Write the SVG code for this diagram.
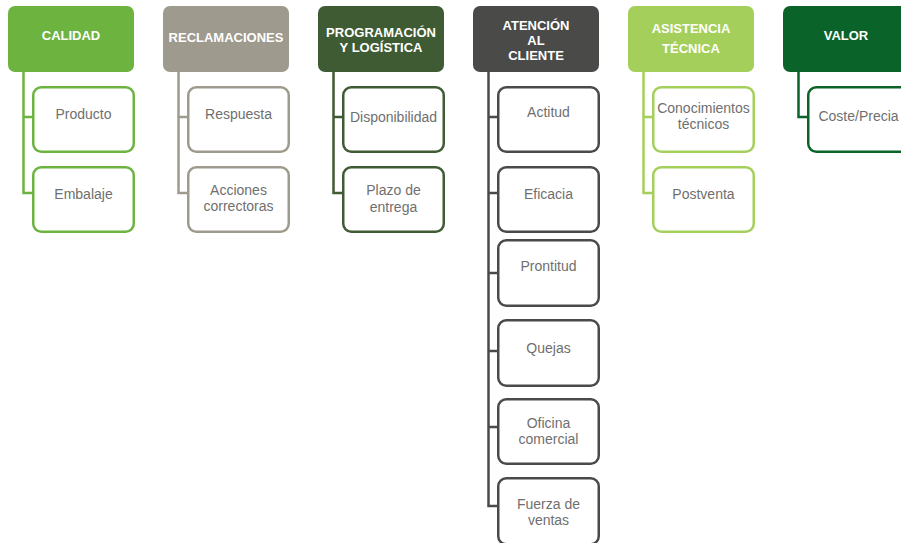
<svg xmlns="http://www.w3.org/2000/svg" width="901" height="543" viewBox="0 0 901 543">
<style>
  .hdr { stroke: none; }
  .box { fill: #ffffff; stroke-width: 2.5; }
  .ht { font-family: "Liberation Sans", Arial, sans-serif; font-size: 13px; font-weight: bold; fill: #ffffff; text-anchor: middle; }
  .ct { font-family: "Liberation Sans", Arial, sans-serif; font-size: 14px; fill: #6f6f6f; text-anchor: middle; }
  .conn path { fill: none; stroke-width: 2.5; }
  .c1 { fill: #6db33f; } .s1 { stroke: #6db33f; }
  .c2 { fill: #9e9a8d; } .s2 { stroke: #9e9a8d; }
  .c3 { fill: #3f5b34; } .s3 { stroke: #3f5b34; }
  .c4 { fill: #4a4a49; } .s4 { stroke: #4a4a49; }
  .c5 { fill: #a5cf5b; } .s5 { stroke: #a5cf5b; }
  .c6 { fill: #0a6328; } .s6 { stroke: #0a6328; }
</style>
<rect width="901" height="543" fill="#ffffff"/>

<g id="connectors" class="conn">
  <path class="s1" d="M23.5 72 V193 H33.25 M23.5 117 H33.25"/>
  <path class="s2" d="M178.5 72 V193 H188.25 M178.5 117 H188.25"/>
  <path class="s3" d="M333.5 72 V193 H343.25 M333.5 117 H343.25"/>
  <path class="s4" d="M488.5 72 V506 H498.25 M488.5 117 H498.25 M488.5 193 H498.25 M488.5 273 H498.25 M488.5 351 H498.25 M488.5 427 H498.25"/>
  <path class="s5" d="M643.5 72 V193 H653.25 M643.5 117 H653.25"/>
  <path class="s6" d="M798.5 72 V117 H808.25"/>
</g>

<!-- CALIDAD -->
<g id="calidad">
  <rect class="hdr c1" x="8" y="6" width="126" height="66" rx="7"/>
  <text class="ht" x="71" y="40">CALIDAD</text>
</g>
<g id="producto">
  <rect class="box s1" x="33.25" y="87.25" width="100.5" height="64.5" rx="8"/>
  <text class="ct" x="83.5" y="119">Producto</text>
</g>
<g id="embalaje">
  <rect class="box s1" x="33.25" y="167.25" width="100.5" height="64.5" rx="8"/>
  <text class="ct" x="83.5" y="199">Embalaje</text>
</g>

<!-- RECLAMACIONES -->
<g id="reclamaciones">
  <rect class="hdr c2" x="163" y="6" width="126" height="66" rx="7"/>
  <text class="ht" x="226" y="42">RECLAMACIONES</text>
</g>
<g id="respuesta">
  <rect class="box s2" x="188.25" y="87.25" width="100.5" height="64.5" rx="8"/>
  <text class="ct" x="238.5" y="119">Respuesta</text>
</g>
<g id="acciones">
  <rect class="box s2" x="188.25" y="167.25" width="100.5" height="64.5" rx="8"/>
  <text class="ct" x="238.5" y="195">Acciones</text>
  <text class="ct" x="238.5" y="211">correctoras</text>
</g>

<!-- PROGRAMACION -->
<g id="programacion">
  <rect class="hdr c3" x="318" y="6" width="126" height="66" rx="7"/>
  <text class="ht" x="381" y="37">PROGRAMACIÓN</text>
  <text class="ht" x="381" y="52">Y LOGÍSTICA</text>
</g>
<g id="disponibilidad">
  <rect class="box s3" x="343.25" y="87.25" width="100.5" height="64.5" rx="8"/>
  <text class="ct" x="393.5" y="122">Disponibilidad</text>
</g>
<g id="plazo">
  <rect class="box s3" x="343.25" y="167.25" width="100.5" height="64.5" rx="8"/>
  <text class="ct" x="393.5" y="195">Plazo de</text>
  <text class="ct" x="393.5" y="212">entrega</text>
</g>

<!-- ATENCION AL CLIENTE -->
<g id="atencion">
  <rect class="hdr c4" x="473" y="6" width="126" height="66" rx="7"/>
  <text class="ht" x="536" y="30">ATENCIÓN</text>
  <text class="ht" x="536" y="45">AL</text>
  <text class="ht" x="536" y="60">CLIENTE</text>
</g>
<g id="actitud">
  <rect class="box s4" x="498.25" y="87.25" width="100.5" height="64.5" rx="8"/>
  <text class="ct" x="548.5" y="117">Actitud</text>
</g>
<g id="eficacia">
  <rect class="box s4" x="498.25" y="167.25" width="100.5" height="64.5" rx="8"/>
  <text class="ct" x="548.5" y="199">Eficacia</text>
</g>
<g id="prontitud">
  <rect class="box s4" x="498.25" y="240.25" width="100.5" height="65.5" rx="8"/>
  <text class="ct" x="548.5" y="271">Prontitud</text>
</g>
<g id="quejas">
  <rect class="box s4" x="498.25" y="320.25" width="100.5" height="65.5" rx="8"/>
  <text class="ct" x="548.5" y="353">Quejas</text>
</g>
<g id="oficina">
  <rect class="box s4" x="498.25" y="399.25" width="100.5" height="64.5" rx="8"/>
  <text class="ct" x="548.5" y="428">Oficina</text>
  <text class="ct" x="548.5" y="444">comercial</text>
</g>
<g id="fuerza">
  <rect class="box s4" x="498.25" y="478.25" width="100.5" height="66" rx="8"/>
  <text class="ct" x="548.5" y="509">Fuerza de</text>
  <text class="ct" x="548.5" y="525">ventas</text>
</g>

<!-- ASISTENCIA TECNICA -->
<g id="asistencia">
  <rect class="hdr c5" x="628" y="6" width="126" height="66" rx="7"/>
  <text class="ht" x="691" y="33">ASISTENCIA</text>
  <text class="ht" x="691" y="53">TÉCNICA</text>
</g>
<g id="conocimientos">
  <rect class="box s5" x="653.25" y="87.25" width="100.5" height="64.5" rx="8"/>
  <text class="ct" x="703.5" y="113">Conocimientos</text>
  <text class="ct" x="703.5" y="129">técnicos</text>
</g>
<g id="postventa">
  <rect class="box s5" x="653.25" y="167.25" width="100.5" height="64.5" rx="8"/>
  <text class="ct" x="703.5" y="199">Postventa</text>
</g>

<!-- VALOR -->
<g id="valor">
  <rect class="hdr c6" x="783" y="6" width="126" height="66" rx="7"/>
  <text class="ht" x="846" y="40">VALOR</text>
</g>
<g id="coste">
  <rect class="box s6" x="808.25" y="87.25" width="100.5" height="64.5" rx="8"/>
  <text class="ct" x="858.5" y="121">Coste/Precia</text>
</g>
</svg>
